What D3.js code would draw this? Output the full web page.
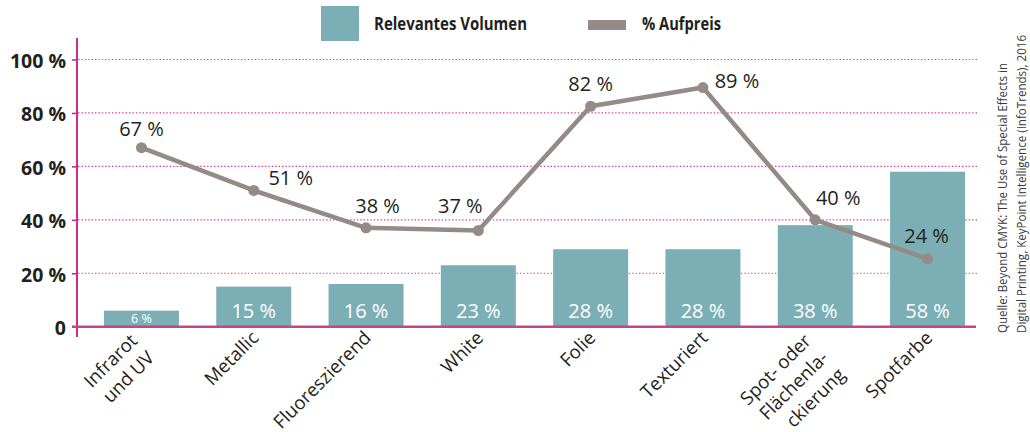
<!DOCTYPE html>
<html>
<head>
<meta charset="utf-8">
<script src="https://cdn.jsdelivr.net/npm/d3@7"></script>
<style>
  html, body { margin: 0; padding: 0; background: #ffffff; }
  svg { display: block; }
</style>
</head>
<body>
<svg id="chart" width="1030" height="432"></svg>
<script>
// ---------- data ----------
const categories = ["Infrarot und UV", "Metallic", "Fluoreszierend", "White", "Folie", "Texturiert", "Spot- oder Flächenlackierung", "Spotfarbe"];
const categoryLines = [["Infrarot", "und UV"], ["Metallic"], ["Fluoreszierend"], ["White"], ["Folie"], ["Texturiert"], ["Spot- oder", "Flächenla-", "ckierung"], ["Spotfarbe"]];
const volume = [6, 15, 16, 23, 29, 29, 38, 58];
const volumeLabels = ["6 %", "15 %", "16 %", "23 %", "28 %", "28 %", "38 %", "58 %"];
const surcharge = [67, 51, 37, 36, 82.5, 89.5, 40, 25.4];
const surchargeLabels = ["67 %", "51 %", "38 %", "37 %", "82 %", "89 %", "40 %", "24 %"];
const yTicks = [0, 20, 40, 60, 80, 100];
const yTickLabels = ["0", "20 %", "40 %", "60 %", "80 %", "100 %"];
const legendLabels = ["Relevantes Volumen", "% Aufpreis"];
const sourceLines = ["Quelle: Beyond CMYK: The Use of Special Effects in", "Digital Printing, KeyPoint Intelligence (InfoTrends), 2016"];

// ---------- styles ----------
const barColor = "#7cafb5";
const lineColor = "#958b86";
const axisColor = "#c8308e";
const baseColor = "#c0478d";
const gridColor = "#e03a93";
const textColor = "#231f20";
const mainFont = "'Open Sans', 'Noto Sans', sans-serif";

const svg = d3.select("#chart");

const x = d3.scaleBand().domain(categories).range([85.3, 983.7]).paddingInner(0.332).paddingOuter(0.166);
const y = d3.scaleLinear().domain([0, 100]).range([326.7, 59.5]);
const cx = c => x(c) + x.bandwidth() / 2;

// gridlines (dotted)
svg.append("g").selectAll("line")
  .data(yTicks.filter(t => t > 0))
  .join("line")
  .attr("x1", 78).attr("x2", 977)
  .attr("y1", d => y(d)).attr("y2", d => y(d))
  .attr("stroke", gridColor).attr("stroke-width", 1.2)
  .attr("stroke-dasharray", "1.4,2");

// y axis via d3.axisLeft
const yAxis = d3.axisLeft(y).tickValues(yTicks).tickSize(5)
  .tickFormat((d, i) => yTickLabels[i]).tickPadding(6);
const gy = svg.append("g").attr("transform", "translate(77,0)").call(yAxis);
gy.select(".domain").remove();
gy.selectAll(".tick line").attr("stroke", axisColor).attr("stroke-width", 1.6);
gy.selectAll(".tick text")
  .attr("x", -11).attr("dy", null).attr("y", 8)
  .attr("fill", textColor)
  .style("font-family", mainFont).style("font-weight", "700").style("font-size", "19.5px")
  .attr("text-anchor", "end");
gy.append("line").attr("x1", 0).attr("x2", 0).attr("y1", 38).attr("y2", 337)
  .attr("stroke", axisColor).attr("stroke-width", 2);

// bars
svg.append("g").selectAll("rect")
  .data(categories)
  .join("rect")
  .attr("x", d => x(d))
  .attr("width", x.bandwidth())
  .attr("y", (d, i) => y(volume[i]))
  .attr("height", (d, i) => y(0) - y(volume[i]))
  .attr("fill", barColor);

// bar labels
svg.append("g").selectAll("text")
  .data(categories)
  .join("text")
  .attr("x", d => cx(d))
  .attr("y", (d, i) => volume[i] < 10 ? 322.5 : 317.5)
  .attr("text-anchor", "middle")
  .attr("fill", "#ffffff")
  .style("font-family", mainFont)
  .style("font-size", (d, i) => volume[i] < 10 ? "12.5px" : "20px")
  .text((d, i) => volumeLabels[i]);

// baseline
svg.append("line").attr("x1", 72).attr("x2", 976).attr("y1", y(0)).attr("y2", y(0))
  .attr("stroke", baseColor).attr("stroke-width", 2.6);

// line series
const line = d3.line().x((d, i) => cx(categories[i])).y(d => y(d));
svg.append("path").datum(surcharge)
  .attr("d", line)
  .attr("fill", "none").attr("stroke", lineColor).attr("stroke-width", 4.5)
  .attr("stroke-linejoin", "round");
svg.append("g").selectAll("circle")
  .data(surcharge)
  .join("circle")
  .attr("cx", (d, i) => cx(categories[i]))
  .attr("cy", d => y(d))
  .attr("r", 5.5)
  .attr("fill", lineColor);

// line value labels (placement offsets relative to each point)
const labelOffsets = [[0, -12], [37, -5], [11.5, -15], [-18, -17.7], [0, -15.6], [34, 0], [23, -15], [-1, -16.3]];
svg.append("g").selectAll("text")
  .data(surcharge)
  .join("text")
  .attr("x", (d, i) => cx(categories[i]) + labelOffsets[i][0])
  .attr("y", (d, i) => y(d) + labelOffsets[i][1])
  .attr("text-anchor", "middle")
  .attr("fill", textColor)
  .style("font-family", mainFont).style("font-size", "20px")
  .text((d, i) => surchargeLabels[i]);

// x labels (rotated)
const xl = svg.append("g").selectAll("g")
  .data(categories)
  .join("g")
  .attr("transform", (d, i) => {
    const multi = categoryLines[i].length > 1;
    const ax = cx(d) + (multi ? -3 : 6);
    const ay = multi ? 342 : 339;
    return `translate(${ax},${ay}) rotate(-45)`;
  });
xl.each(function(d, i) {
  const g = d3.select(this);
  categoryLines[i].forEach((t, k) => {
    g.append("text")
      .attr("x", 0).attr("y", k * 24)
      .attr("text-anchor", "end")
      .attr("fill", textColor)
      .style("font-family", mainFont).style("font-size", "18.6px")
      .text(t);
  });
});

// legend
const lg = svg.append("g");
lg.append("rect").attr("x", 321).attr("y", 6).attr("width", 38).attr("height", 35).attr("fill", barColor);
lg.append("text").attr("x", 374).attr("y", 30).attr("fill", textColor)
  .attr("textLength", 153).attr("lengthAdjust", "spacingAndGlyphs")
  .style("font-family", mainFont).style("font-weight", "700").style("font-size", "18px")
  .text(legendLabels[0]);
lg.append("rect").attr("x", 588).attr("y", 20).attr("width", 38).attr("height", 10).attr("fill", lineColor);
lg.append("text").attr("x", 642).attr("y", 30).attr("fill", textColor)
  .attr("textLength", 79).attr("lengthAdjust", "spacingAndGlyphs")
  .style("font-family", mainFont).style("font-weight", "700").style("font-size", "18px")
  .text(legendLabels[1]);

// source (rotated)
const src = svg.append("g");
const srcX = [1007, 1025.5];
const srcLen = [270, 298];
sourceLines.forEach((t, k) => {
  src.append("text")
    .attr("transform", `translate(${srcX[k]},333) rotate(-90)`)
    .attr("fill", "#3a3a3a")
    .attr("textLength", srcLen[k]).attr("lengthAdjust", "spacingAndGlyphs")
    .style("font-family", mainFont).style("font-size", "12.5px")
    .text(t);
});
</script>
</body>
</html>
